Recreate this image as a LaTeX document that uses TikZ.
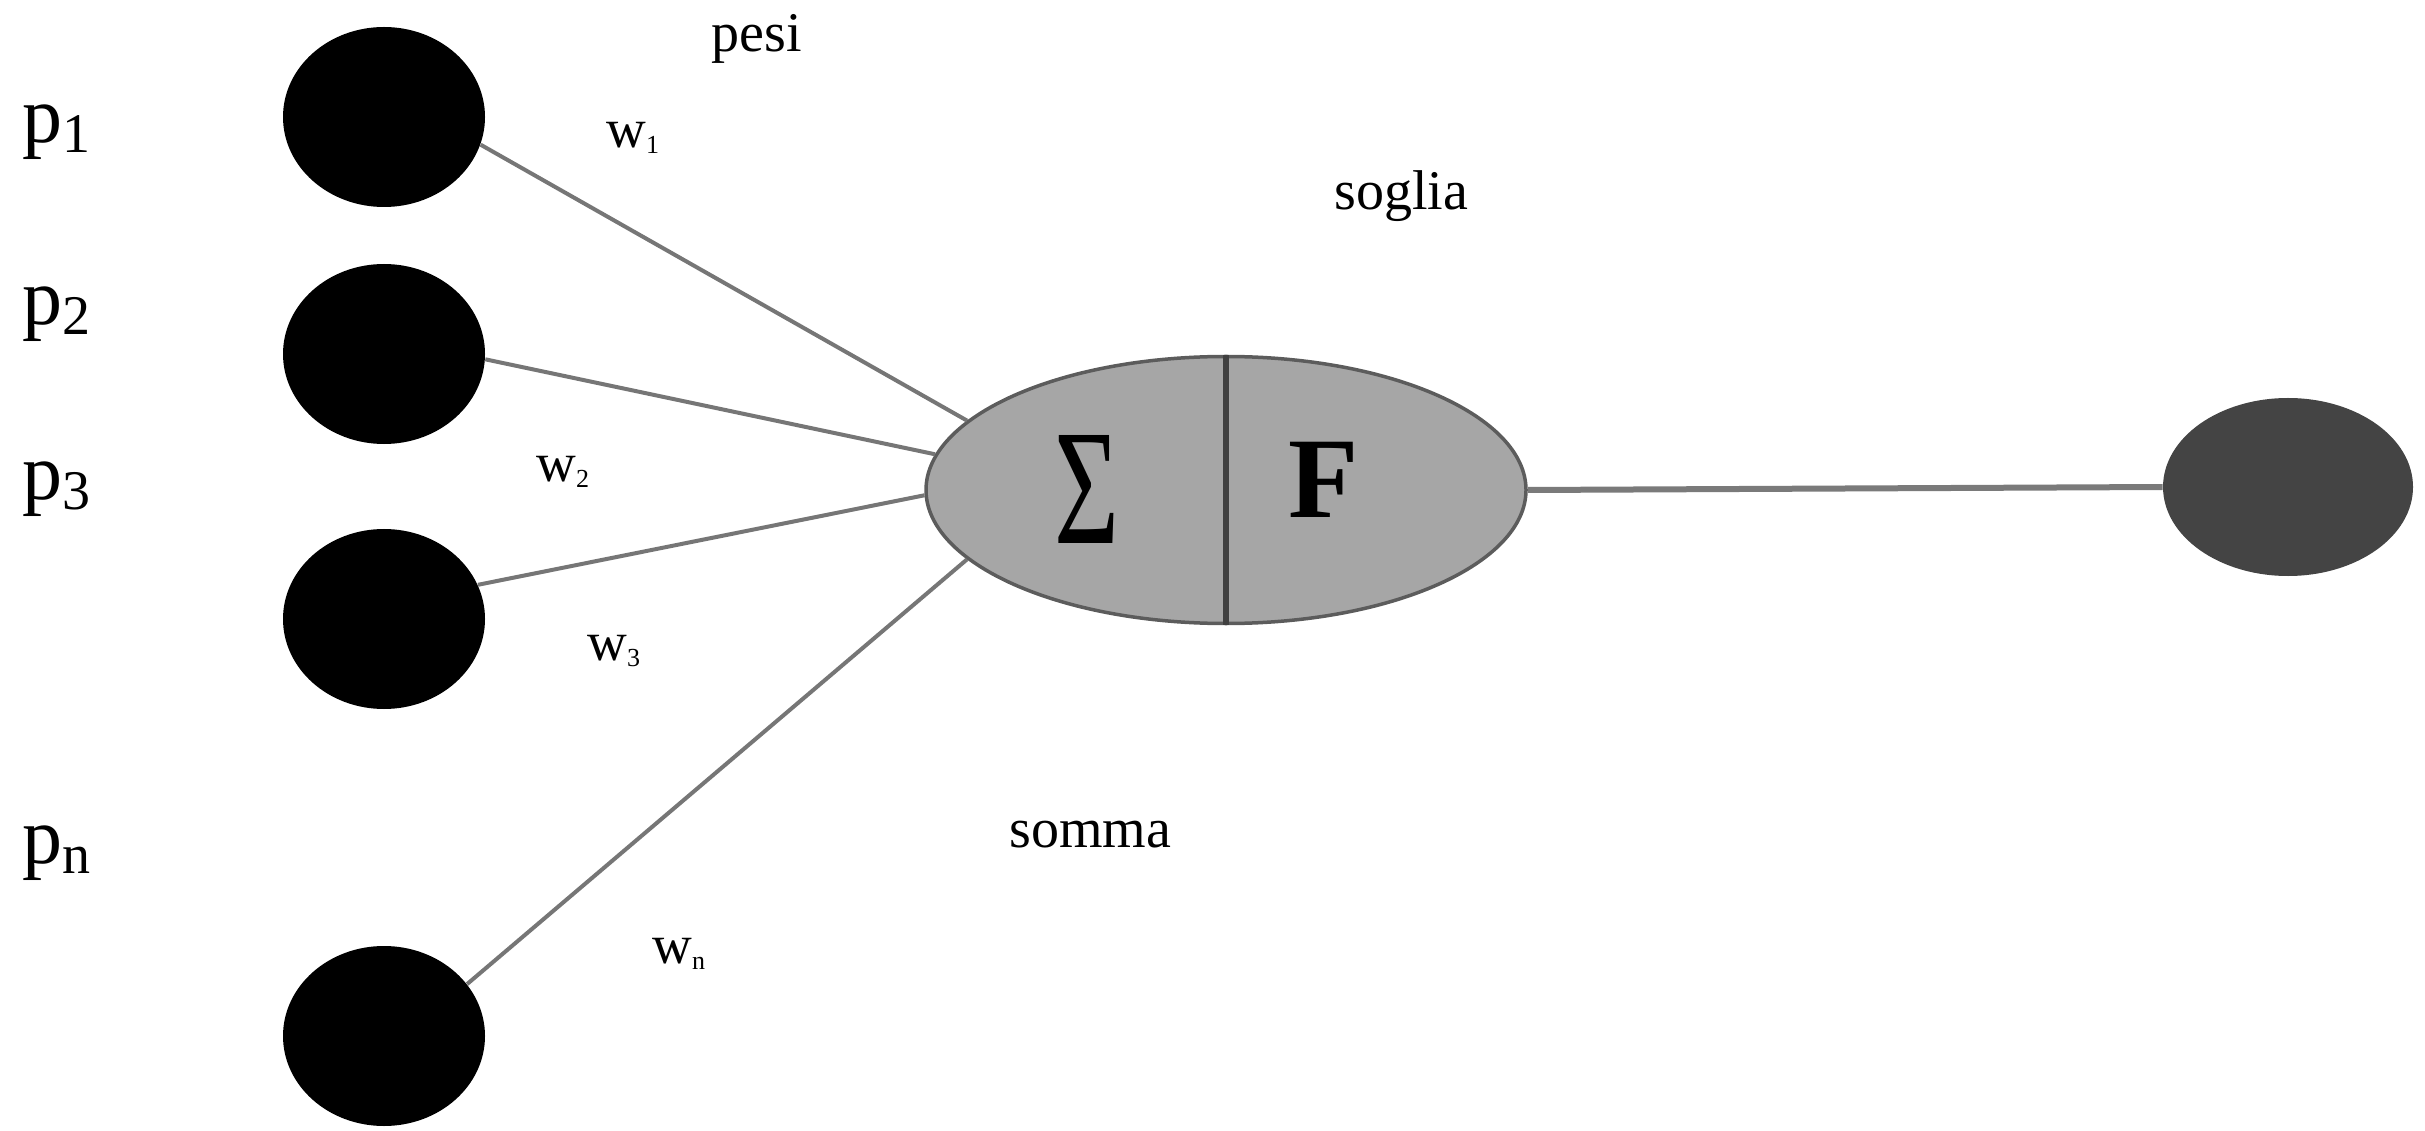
\documentclass[tikz,border=0pt]{standalone}
\usepackage{fontspec}
\setmainfont{Liberation Serif}
\usetikzlibrary{shapes.geometric}

\definecolor{wiregray}{HTML}{767676}
\definecolor{outwire}{HTML}{7A7A7A}
\definecolor{bodygray}{HTML}{A6A6A6}
\definecolor{rimgray}{HTML}{5C5C5C}
\definecolor{splitgray}{HTML}{404040}
\definecolor{outgray}{HTML}{444444}

% input label p with a lowered index
\newcommand{\inlabel}[1]{\fontsize{32pt}{36pt}\selectfont p\raisebox{-4pt}{\fontsize{22.4pt}{26pt}\selectfont #1}}
% weight label w with a small lowered index
\newcommand{\wlabel}[1]{\fontsize{22pt}{26pt}\selectfont w\raisebox{-2.4pt}{\fontsize{10.4pt}{12pt}\selectfont #1}}

\begin{document}
\begin{tikzpicture}[x=0.4pt,y=-0.4pt,
  inputdot/.style={ellipse, fill=black, minimum width=80.8pt, minimum height=72pt, inner sep=0pt},
  outdot/.style={ellipse, fill=outgray, minimum width=100pt, minimum height=71.2pt, inner sep=0pt},
  neuron/.style={ellipse, fill=bodygray, draw=rimgray, line width=1.4pt,
                 minimum width=240pt, minimum height=106.8pt, inner sep=0pt},
  wire/.style={draw=wiregray, line width=1.6pt},
  outline/.style={draw=outwire, line width=2.4pt},
  divider/.style={draw=splitgray, line width=2.6pt},
  txt/.style={anchor=base west, inner sep=0pt, font=\fontsize{22.4pt}{26pt}\selectfont},
  plabel/.style={anchor=base west, inner sep=0pt},
  wtxt/.style={anchor=base west, inner sep=0pt}
]
\useasboundingbox (0,0) rectangle (2425,1131);

% input units
\node[inputdot] (c1) at (384,117) {};
\node[inputdot] (c2) at (384,354) {};
\node[inputdot] (c3) at (384,619) {};
\node[inputdot] (c4) at (384,1036) {};

% summing and threshold unit
\node[neuron] (e) at (1226,490) {};
% output unit
\node[outdot] (out) at (2288,487) {};

% weighted connections
\draw[wire] (c1.-16) -- (e.165);
\draw[wire] (c2.-3) -- (e.173);
\draw[wire] (c3.20) -- (e.181);
\draw[wire] (c4.32) -- (e.195);
\draw[outline] (e.east) -- (out.west);

% split between sum and activation
\draw[divider] (e.north) -- (e.south);

% symbols inside the unit
\node[inner sep=0pt] (sig) at (1087,489) {\resizebox{26pt}{43.2pt}{Σ}};
\node[anchor=base west, inner sep=0pt] (fn) at (1288,518) {\fontsize{46pt}{50pt}\selectfont\bfseries F};

% input labels
\node[plabel] (p1) at (22,143) {\inlabel{1}};
\node[plabel] (p2) at (22,325) {\inlabel{2}};
\node[plabel] (p3) at (22,500) {\inlabel{3}};
\node[plabel] (pn) at (22,863) {\inlabel{n}};

% weight labels
\node[wtxt] (w1) at (606,148) {\wlabel{1}};
\node[wtxt] (w2) at (536,482) {\wlabel{2}};
\node[wtxt] (w3) at (587,660) {\wlabel{3}};
\node[wtxt] (wn) at (652,963) {\wlabel{n}};

% captions
\node[txt] (pesi) at (711,52) {pesi};
\node[txt] (soglia) at (1334,210) {soglia};
\node[txt] (somma) at (1009,847) {somma};
\end{tikzpicture}
\end{document}
